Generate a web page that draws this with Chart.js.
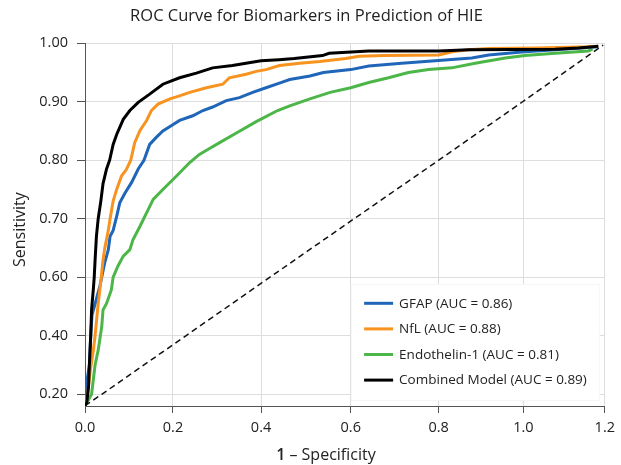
<!DOCTYPE html>
<html>
<head>
<meta charset="utf-8">
<script src="https://cdn.jsdelivr.net/npm/chart.js@4/dist/chart.umd.min.js"></script>
<style>
  html, body { margin: 0; padding: 0; background: #ffffff; }
  #wrap { width: 621px; height: 465px; }
</style>
</head>
<body>
<div id="wrap"><canvas id="c" width="621" height="465"></canvas></div>
<script>
// ---------- data ----------
const chartTitle = 'ROC Curve for Biomarkers in Prediction of HIE';
const xTitleLead = '1';
const xTitleRest = ' – Specificity';
const yTitle = 'Sensitivity';

const xTicks = [0.0, 0.2, 0.4, 0.6, 0.8, 1.0, 1.2];
const yTicks = [0.20, 0.40, 0.60, 0.70, 0.80, 0.90, 1.00];

const seriesLabels = ['GFAP (AUC = 0.86)', 'NfL (AUC = 0.88)', 'Endothelin-1 (AUC = 0.81)', 'Combined Model (AUC = 0.89)'];

const gfapX = [0, 0.005, 0.010, 0.013, 0.016, 0.025, 0.034, 0.038, 0.045, 0.053, 0.057, 0.064, 0.072, 0.079, 0.091, 0.106, 0.121, 0.134, 0.147, 0.162, 0.177, 0.196, 0.215, 0.245, 0.268, 0.290, 0.321, 0.351, 0.381, 0.411, 0.441, 0.464, 0.509, 0.539, 0.600, 0.641, 0.716, 0.792, 0.878, 0.918, 0.996, 1.078, 1.184];
const gfapY = [0.16, 0.25, 0.30, 0.40, 0.47, 0.52, 0.57, 0.60, 0.625, 0.647, 0.67, 0.68, 0.704, 0.727, 0.744, 0.762, 0.785, 0.80, 0.827, 0.839, 0.85, 0.859, 0.868, 0.876, 0.885, 0.891, 0.902, 0.907, 0.916, 0.924, 0.932, 0.938, 0.944, 0.950, 0.955, 0.961, 0.966, 0.970, 0.975, 0.980, 0.985, 0.989, 0.994];

const nflX = [0, 0.006, 0.012, 0.019, 0.023, 0.030, 0.034, 0.037, 0.041, 0.045, 0.053, 0.057, 0.064, 0.072, 0.083, 0.094, 0.104, 0.113, 0.125, 0.140, 0.151, 0.166, 0.193, 0.215, 0.238, 0.276, 0.313, 0.328, 0.366, 0.389, 0.411, 0.441, 0.486, 0.531, 0.589, 0.619, 0.677, 0.800, 0.835, 0.871, 0.918, 1.037, 1.159, 1.184];
const nflY = [0.16, 0.20, 0.28, 0.35, 0.40, 0.51, 0.56, 0.60, 0.63, 0.65, 0.68, 0.70, 0.73, 0.75, 0.773, 0.784, 0.80, 0.83, 0.851, 0.868, 0.885, 0.896, 0.905, 0.910, 0.916, 0.924, 0.930, 0.941, 0.947, 0.952, 0.955, 0.962, 0.966, 0.969, 0.974, 0.978, 0.979, 0.980, 0.986, 0.989, 0.991, 0.992, 0.994, 0.995];

const et1X = [0, 0.008, 0.015, 0.023, 0.030, 0.038, 0.041, 0.049, 0.060, 0.064, 0.075, 0.087, 0.102, 0.109, 0.125, 0.140, 0.155, 0.177, 0.208, 0.238, 0.260, 0.283, 0.306, 0.343, 0.389, 0.437, 0.464, 0.509, 0.554, 0.600, 0.641, 0.686, 0.731, 0.777, 0.831, 0.886, 0.957, 1.004, 1.078, 1.159, 1.170];
const et1Y = [0.16, 0.18, 0.20, 0.30, 0.35, 0.43, 0.488, 0.51, 0.557, 0.60, 0.619, 0.636, 0.647, 0.664, 0.687, 0.710, 0.733, 0.75, 0.773, 0.796, 0.81, 0.82, 0.83, 0.846, 0.866, 0.885, 0.893, 0.905, 0.916, 0.924, 0.933, 0.941, 0.950, 0.955, 0.958, 0.966, 0.975, 0.979, 0.983, 0.987, 0.990];

const combX = [0, 0.004, 0.008, 0.010, 0.013, 0.015, 0.019, 0.021, 0.023, 0.026, 0.030, 0.036, 0.041, 0.049, 0.056, 0.064, 0.072, 0.087, 0.102, 0.121, 0.147, 0.177, 0.215, 0.253, 0.290, 0.335, 0.400, 0.440, 0.474, 0.537, 0.552, 0.641, 0.800, 0.871, 1.078, 1.135, 1.184];
const combY = [0.16, 0.17, 0.225, 0.30, 0.40, 0.49, 0.56, 0.60, 0.63, 0.67, 0.70, 0.73, 0.76, 0.785, 0.80, 0.827, 0.844, 0.870, 0.885, 0.899, 0.913, 0.930, 0.941, 0.949, 0.958, 0.962, 0.970, 0.972, 0.974, 0.979, 0.983, 0.987, 0.987, 0.989, 0.990, 0.992, 0.995];

const refX = [0, 0.039, 0.230, 0.420, 0.608, 0.800, 0.998, 1.196];
const refY = [0.16, 0.20, 0.40, 0.60, 0.70, 0.80, 0.90, 0.997];

// ---------- scale layout (axis spacing as drawn in the reference) ----------
const axisSpacing = {
  x: { breaks: xTicks, units: [0, 88.3, 176.7, 266.7, 355, 440, 521.7], min: 0, max: 1.2 },
  y: { breaks: yTicks, units: [0, 1, 2, 3, 4, 5, 6], min: 0.159, max: 1.0 }
};

class BreakScale extends Chart.LinearScale {
  static id = 'breakLinear';
  static defaults = Chart.LinearScale.defaults;
  _cfg() { return axisSpacing[this.id]; }
  _toUnit(v) {
    const { breaks: b, units: u } = this._cfg();
    let i = 0;
    if (v >= b[b.length - 1]) i = b.length - 2;
    else if (v > b[0]) { while (v > b[i + 1]) i++; }
    return u[i] + (v - b[i]) / (b[i + 1] - b[i]) * (u[i + 1] - u[i]);
  }
  _fromUnit(w) {
    const { breaks: b, units: u } = this._cfg();
    let i = 0;
    if (w >= u[u.length - 1]) i = u.length - 2;
    else if (w > u[0]) { while (w > u[i + 1]) i++; }
    return b[i] + (w - u[i]) / (u[i + 1] - u[i]) * (b[i + 1] - b[i]);
  }
  buildTicks() {
    return this._cfg().breaks.map(v => ({ value: v }));
  }
  getPixelForValue(value) {
    const a = this._toUnit(this.min), z = this._toUnit(this.max);
    return this.getPixelForDecimal((this._toUnit(value) - a) / (z - a));
  }
  getValueForPixel(pixel) {
    const a = this._toUnit(this.min), z = this._toUnit(this.max);
    return this._fromUnit(a + this.getDecimalForPixel(pixel) * (z - a));
  }
}
Chart.register(BreakScale);

const pts = (xs, ys) => xs.map((x, i) => ({ x: x, y: ys[i] }));

const FONT = '"Open Sans", "Noto Sans", "DejaVu Sans", sans-serif';
Chart.defaults.font.family = FONT;
Chart.defaults.color = '#222';

const curve = (label, xs, ys, color, order) => ({
  label: label, data: pts(xs, ys), borderColor: color, backgroundColor: color,
  borderWidth: 3, pointRadius: 0, tension: 0, borderJoinStyle: 'miter', fill: false, order: order
});

const datasets = [
  curve(seriesLabels[0], gfapX, gfapY, '#1f66b8', 2),
  curve(seriesLabels[1], nflX, nflY, '#f7931e', 1),
  curve(seriesLabels[2], et1X, et1Y, '#4cb748', 3),
  curve(seriesLabels[3], combX, combY, '#000000', 0),
  { label: 'Reference', data: pts(refX, refY), borderColor: '#111', borderWidth: 1.5,
    borderDash: [6, 4], pointRadius: 0, fill: false, order: 4, hideInLegend: true }
];

const insideLegend = {
  id: 'insideLegend',
  afterDatasetsDraw(chart) {
    const { ctx, chartArea: a } = chart;
    ctx.save();
    ctx.fillStyle = '#ffffff';
    ctx.fillRect(a.right - 254, a.bottom - 122, 249, 117);
    ctx.strokeStyle = 'rgba(0,0,0,0.035)';
    ctx.lineWidth = 1;
    ctx.strokeRect(a.right - 253.5, a.bottom - 121.5, 248, 116);
    const items = chart.data.datasets.filter(d => !d.hideInLegend);
    ctx.font = '13.5px ' + FONT;
    ctx.textBaseline = 'middle';
    ctx.textAlign = 'left';
    items.forEach((d, i) => {
      const y = a.bottom - 102.7 + i * 25.6;
      ctx.strokeStyle = d.borderColor;
      ctx.lineWidth = 3;
      ctx.beginPath();
      ctx.moveTo(a.right - 240.7, y);
      ctx.lineTo(a.right - 211.7, y);
      ctx.stroke();
      ctx.fillStyle = '#222';
      ctx.fillText(d.label, a.right - 205.7, y + 0.5);
    });
    ctx.restore();
  }
};

// axis titles drawn as text at the reference's positions (bold leading "1")
const axisTitles = {
  id: 'axisTitles',
  afterDraw(chart) {
    const { ctx, chartArea: a } = chart;
    ctx.save();
    ctx.fillStyle = '#222';
    ctx.textBaseline = 'alphabetic';
    ctx.textAlign = 'left';
    const boldFont = '600 16px ' + FONT, normFont = '16px ' + FONT;
    ctx.font = boldFont; const w1 = ctx.measureText(xTitleLead).width;
    ctx.font = normFont; const w2 = ctx.measureText(xTitleRest).width;
    const cx = (a.left + a.right) / 2 - 19;
    const x0 = cx - (w1 + w2) / 2;
    const base = a.bottom + 53.5;
    ctx.font = boldFont; ctx.fillText(xTitleLead, x0, base);
    ctx.font = normFont; ctx.fillText(xTitleRest, x0 + w1, base);
    ctx.translate(20, (a.top + a.bottom) / 2 + 5);
    ctx.rotate(-Math.PI / 2);
    ctx.textAlign = 'center';
    ctx.textBaseline = 'middle';
    ctx.font = normFont;
    ctx.fillText(yTitle, 0, 0);
    ctx.restore();
  }
};

const whiteBg = {
  id: 'whiteBg',
  beforeDraw(chart) {
    const { ctx } = chart;
    ctx.save();
    ctx.fillStyle = '#ffffff';
    ctx.fillRect(0, 0, chart.width, chart.height);
    ctx.restore();
  }
};

new Chart(document.getElementById('c'), {
  type: 'line',
  data: { datasets: datasets },
  plugins: [whiteBg, insideLegend, axisTitles],
  options: {
    responsive: false,
    animation: false,
    devicePixelRatio: 1,
    layout: { padding: { left: 6, right: 14, top: 0, bottom: 0 } },
    plugins: {
      legend: { display: false },
      tooltip: { enabled: false },
      title: {
        display: true, text: chartTitle, color: '#222',
        font: { size: 16.5, weight: 'normal', lineHeight: 1.2 },
        padding: { top: 6, bottom: 17.5 }
      }
    },
    scales: {
      x: {
        type: 'breakLinear', min: axisSpacing.x.min, max: axisSpacing.x.max,
        grid: { color: '#dddddd', tickColor: '#555', tickLength: 7, lineWidth: 1 },
        border: { color: '#555', width: 1 },
        ticks: { padding: 6, color: '#222', font: { size: 14.5 }, maxRotation: 0,
                 callback: v => Number(v).toFixed(1) },
        title: { display: false },
        afterFit: s => { s.height = 59; }
      },
      y: {
        type: 'breakLinear', min: axisSpacing.y.min, max: axisSpacing.y.max,
        grid: { color: '#dddddd', tickColor: '#555', tickLength: 8, lineWidth: 1 },
        border: { color: '#555', width: 1 },
        ticks: { padding: 9, color: '#222', font: { size: 14.5 },
                 callback: v => Number(v).toFixed(2) },
        title: { display: false },
        afterFit: s => { s.width = 79; }
      }
    }
  }
});
</script>
</body>
</html>
